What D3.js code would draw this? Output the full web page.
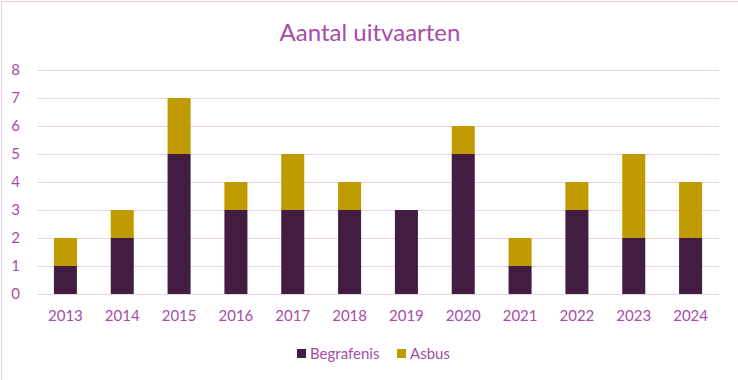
<!DOCTYPE html>
<html>
<head>
<meta charset="utf-8">
<script src="https://cdn.jsdelivr.net/npm/d3@7"></script>
<style>
  body { margin: 0; background: #fff; }
  text { font-family: Lato, "Open Sans", sans-serif; fill: #A64CA6; }
</style>
</head>
<body>
<svg id="chart"></svg>
<script>
var years = ['2013', '2014', '2015', '2016', '2017', '2018', '2019', '2020', '2021', '2022', '2023', '2024'];
var begrafenis = [1, 2, 5, 3, 3, 3, 3, 5, 1, 3, 2, 2];
var asbus = [1, 1, 2, 1, 2, 1, 0, 1, 1, 1, 3, 2];
var seriesNames = ['Begrafenis', 'Asbus'];
var colors = ['#431D41', '#BF9B00'];
var yTicks = [0, 1, 2, 3, 4, 5, 6, 7, 8];

var W = 738, H = 380;
var margin = {top: 70, right: 19, bottom: 86, left: 37},
    width = W - margin.left - margin.right,
    height = H - margin.top - margin.bottom;

var svg = d3.select('#chart').attr('width', W).attr('height', H);

// outer border of the chart area
svg.append('path')
    .attr('d', 'M1.5,' + H + 'V1.5H' + W)
    .attr('fill', 'none')
    .attr('stroke', '#E6CCE6');

svg.append('text')
    .attr('x', 370)
    .attr('y', 41)
    .attr('text-anchor', 'middle')
    .style('font-size', '24px')
    .text('Aantal uitvaarten');

var table = years.map(function(y, i) {
    return {year: y, Begrafenis: begrafenis[i], Asbus: asbus[i]};
});
var stacked = d3.stack().keys(seriesNames)(table);

var x = d3.scaleBand().domain(years).range([0, width]).paddingInner(0.595).paddingOuter(0.2975);
var y = d3.scaleLinear().domain([0, 8]).range([height, 0]);

var g = svg.append('g').attr('transform', 'translate(' + margin.left + ',' + margin.top + ')');

g.append('g')
    .selectAll('line')
    .data(yTicks)
    .join('line')
    .attr('x1', 0).attr('x2', width)
    .attr('y1', function(d) { return Math.round(y(d)) + 0.5; })
    .attr('y2', function(d) { return Math.round(y(d)) + 0.5; })
    .attr('stroke', '#EBD3EB');

g.selectAll('g.series')
    .data(stacked)
    .join('g')
    .attr('class', 'series')
    .attr('fill', function(d, i) { return colors[i]; })
    .selectAll('rect')
    .data(function(d) { return d; })
    .join('rect')
    .attr('x', function(d) { return x(d.data.year); })
    .attr('width', x.bandwidth())
    .attr('y', function(d) { return y(d[1]); })
    .attr('height', function(d) { return y(d[0]) - y(d[1]); });

var yAxis = g.append('g')
    .call(d3.axisLeft(y).tickValues(yTicks).tickSize(0).tickPadding(17).tickFormat(d3.format('d')));
yAxis.select('.domain').remove();
yAxis.selectAll('text').style('font-size', '15px').attr('fill', '#A64CA6');

var xAxis = g.append('g')
    .attr('transform', 'translate(0,' + height + ')')
    .call(d3.axisBottom(x).tickSize(0).tickPadding(16));
xAxis.select('.domain').remove();
xAxis.selectAll('text').style('font-size', '15px').attr('fill', '#A64CA6');

// legend
var legendX = [297, 397];
var legend = svg.append('g');
seriesNames.forEach(function(name, i) {
    legend.append('rect')
        .attr('x', legendX[i]).attr('y', 349)
        .attr('width', 9).attr('height', 9)
        .attr('fill', colors[i]);
    legend.append('text')
        .attr('x', legendX[i] + 13).attr('y', 359)
        .style('font-size', '15px')
        .text(name);
});
</script>
</body>
</html>
